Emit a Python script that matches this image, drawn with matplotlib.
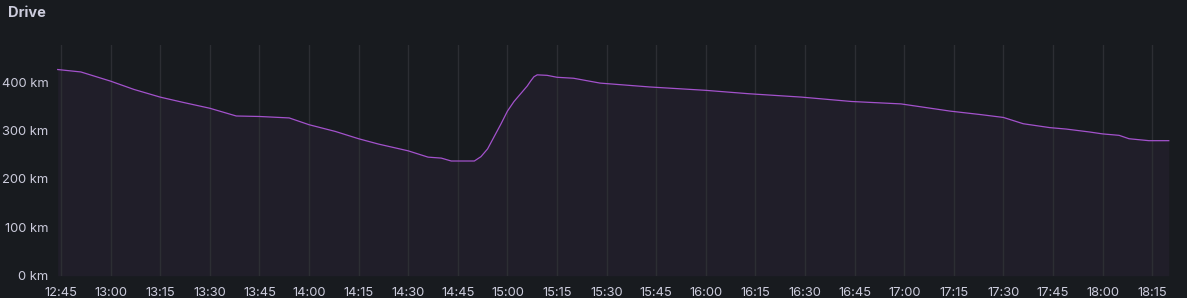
import matplotlib
matplotlib.use("Agg")
import matplotlib.pyplot as plt
import matplotlib.dates as mdates
import matplotlib.ticker as mticker
from datetime import datetime

# data (time of day, remaining range in km)
times = ["12:44", "12:51", "13:00", "13:07", "13:15", "13:22", "13:30", "13:38",
         "13:45", "13:54", "14:00", "14:08", "14:15", "14:21", "14:30", "14:36",
         "14:40", "14:43", "14:50", "14:52", "14:54", "14:58", "15:00", "15:02",
         "15:04", "15:06", "15:07", "15:08", "15:09", "15:12", "15:15", "15:20",
         "15:28", "15:43", "16:00", "16:13", "16:29", "16:44", "16:59", "17:14",
         "17:23", "17:30", "17:36", "17:44", "17:49", "17:56", "18:00", "18:05",
         "18:08", "18:14", "18:20"]
range_km = [426, 421, 402, 385, 369, 358, 346, 330,
            329, 326, 312, 298, 283, 272, 258, 245,
            243, 237, 237, 246, 262, 313, 340, 360,
            376, 392, 402, 411, 415, 414, 410, 408,
            398, 390, 383, 376, 369, 360, 355, 340,
            333, 327, 314, 306, 303, 297, 293, 290,
            283, 279, 279]
y_ticks = [0, 100, 200, 300, 400]

day = "2024-01-01 "
x = [datetime.strptime(day + t, "%Y-%m-%d %H:%M") for t in times]

bg = "#181b1f"
txt = "#ccccdc"
line_col = "#a352cc"

plt.rcParams['font.family'] = ['Inter', 'DejaVu Sans']

fig = plt.figure(figsize=(11.87, 2.98), dpi=100, facecolor=bg)
ax = fig.add_axes([57 / 1187, 22.3 / 298, (1180 - 57) / 1187, 230.7 / 298])
ax.set_facecolor(bg)

ax.fill_between(x, range_km, 0, color=line_col, alpha=0.06, linewidth=0)
ax.plot(x, range_km, color=line_col, linewidth=0.9)

ax.set_xlim(datetime.strptime(day + "12:43:47", "%Y-%m-%d %H:%M:%S"),
            datetime.strptime(day + "18:23:24", "%Y-%m-%d %H:%M:%S"))
ax.set_ylim(0, 476.7)

ax.xaxis.set_major_locator(mdates.MinuteLocator(byminute=[0, 15, 30, 45]))
ax.xaxis.set_major_formatter(mdates.DateFormatter("%H:%M"))
ax.set_yticks(y_ticks)
ax.yaxis.set_major_formatter(mticker.FuncFormatter(lambda v, p: "%d km" % v))

ax.grid(axis="x", color="#2c2e33", linewidth=1)
ax.grid(axis="y", visible=False)
for s in ax.spines.values():
    s.set_visible(False)
ax.tick_params(colors=txt, labelsize=9.3, length=0)
ax.tick_params(axis="x", pad=8)
ax.tick_params(axis="y", pad=6)

fig.text(8 / 1187, 1 - 13 / 298, "Drive", color=txt, fontsize=10.5,
         fontweight="bold", va="center", ha="left")

fig.savefig("out.png", dpi=100, facecolor=bg)
